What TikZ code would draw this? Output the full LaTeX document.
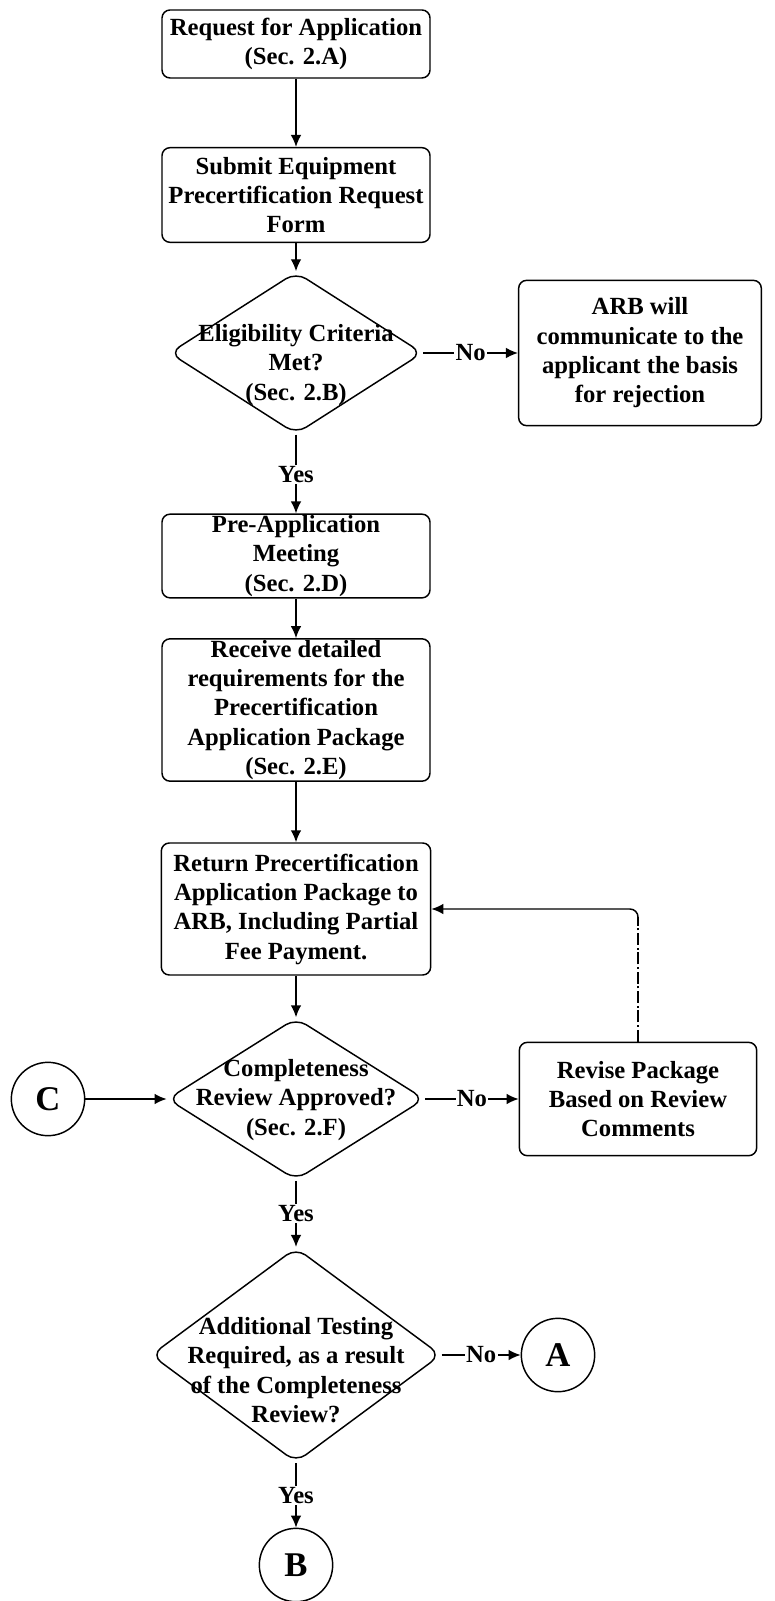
\documentclass[tikz,border=0pt]{standalone}
\usepackage{fontspec}
\setmainfont{Liberation Serif}
\usetikzlibrary{arrows.meta,calc,shapes.geometric}

\begin{document}
\begin{tikzpicture}[
        x=0.75pt, y=-0.75pt,
        line width=1.1pt,
        >={Latex[length=9pt,width=8pt]},
        procbox/.style={draw,rounded corners=6pt,align=center,inner xsep=2pt,
            inner ysep=1pt,font=\bfseries\fontsize{18.5}{22}\selectfont},
        decide/.style={draw,diamond,rounded corners=9pt,inner sep=0pt},
        dtext/.style={align=center,inner sep=0pt,
            font=\bfseries\fontsize{18.5}{22}\selectfont},
        conn/.style={circle,draw,minimum size=55pt,inner sep=0pt,
            font=\bfseries\fontsize{26}{30}\selectfont},
        flow/.style={->},
        fbdash/.style={dash pattern=on 9pt off 2pt on 1.5pt off 2pt},
        yesno/.style={fill=white,inner sep=1pt,
            font=\bfseries\fontsize{18.5}{22}\selectfont},
    ]
\useasboundingbox (0,0) rectangle (774,1601);

% main column
\node[procbox,minimum width=201pt,minimum height=51pt] (req) at (296,44)
    {Request for Application\\(Sec. 2.A)};
\node[procbox,minimum width=201pt,minimum height=71pt] (submit) at (296,195)
    {Submit Equipment\\Precertification Request\\Form};
\node[decide,minimum width=190pt,minimum height=121.5pt] (elig) at (296,353) {};
\node[dtext] (eligtxt) at (296,365) {Eligibility Criteria\\Met?\\(Sec. 2.B)};
\node[procbox,minimum width=182pt,minimum height=109pt] (arb) at (640,353)
    {ARB will\\communicate to the\\applicant the basis\\for rejection};
\node[procbox,minimum width=201pt,minimum height=58pt] (preapp) at (296,556)
    {Pre-Application\\Meeting\\(Sec. 2.D)};
\node[procbox,minimum width=201pt,minimum height=105pt] (receive) at (296,710)
    {Receive detailed\\requirements for the\\Precertification\\Application Package\\(Sec. 2.E)};
\node[procbox,minimum width=202pt,minimum height=99pt] (ret) at (296,909)
    {Return Precertification\\Application Package to\\ARB, Including Partial\\Fee Payment.};

% completeness review
\node[decide,minimum width=193pt,minimum height=121.5pt] (complete) at (296,1099) {};
\node[dtext] (completetxt) at (296,1100) {Completeness\\Review Approved?\\(Sec. 2.F)};
\node[conn] (cnode) at (48,1099) {C};
\node[procbox,minimum width=178pt,minimum height=85pt] (revise) at (638,1099)
    {Revise Package\\Based on Review\\Comments};

% additional testing
\node[decide,minimum width=217.5pt,minimum height=161pt] (addtest) at (296,1355) {};
\node[dtext] (addtesttxt) at (296,1370)
    {Additional Testing\\Required, as a result\\of the Completeness\\Review?};
\node[conn] (anode) at (558,1355) {A};
\node[conn] (bnode) at (296,1565) {B};

% connectors
\draw[flow] (req) -- (submit);
\draw[flow] (submit) -- (elig);
\draw[flow] (elig) -- node[yesno] {No} (arb);
\draw[flow] (elig) -- node[yesno] {Yes} (preapp);
\draw[flow] (preapp) -- (receive);
\draw[flow] (receive) -- (ret);
\draw[flow] (ret) -- (complete);
\draw[flow] (cnode) -- (complete);
\draw[flow] (complete) -- node[yesno] {No} (revise);
\draw[flow] (complete) -- node[yesno] {Yes} (addtest);
\draw[flow] (addtest) -- node[yesno] {No} (anode);
\draw[flow] (addtest) -- node[yesno] {Yes} (bnode);

% loop back after revision
\coordinate (bend) at (revise.north |- ret.east);
\draw[fbdash] (revise.north) -- ($(bend)+(0,8)$);
\draw[flow,rounded corners=6pt] ($(bend)+(0,8)$) -- (bend) -- (ret.east);
\end{tikzpicture}
\end{document}
